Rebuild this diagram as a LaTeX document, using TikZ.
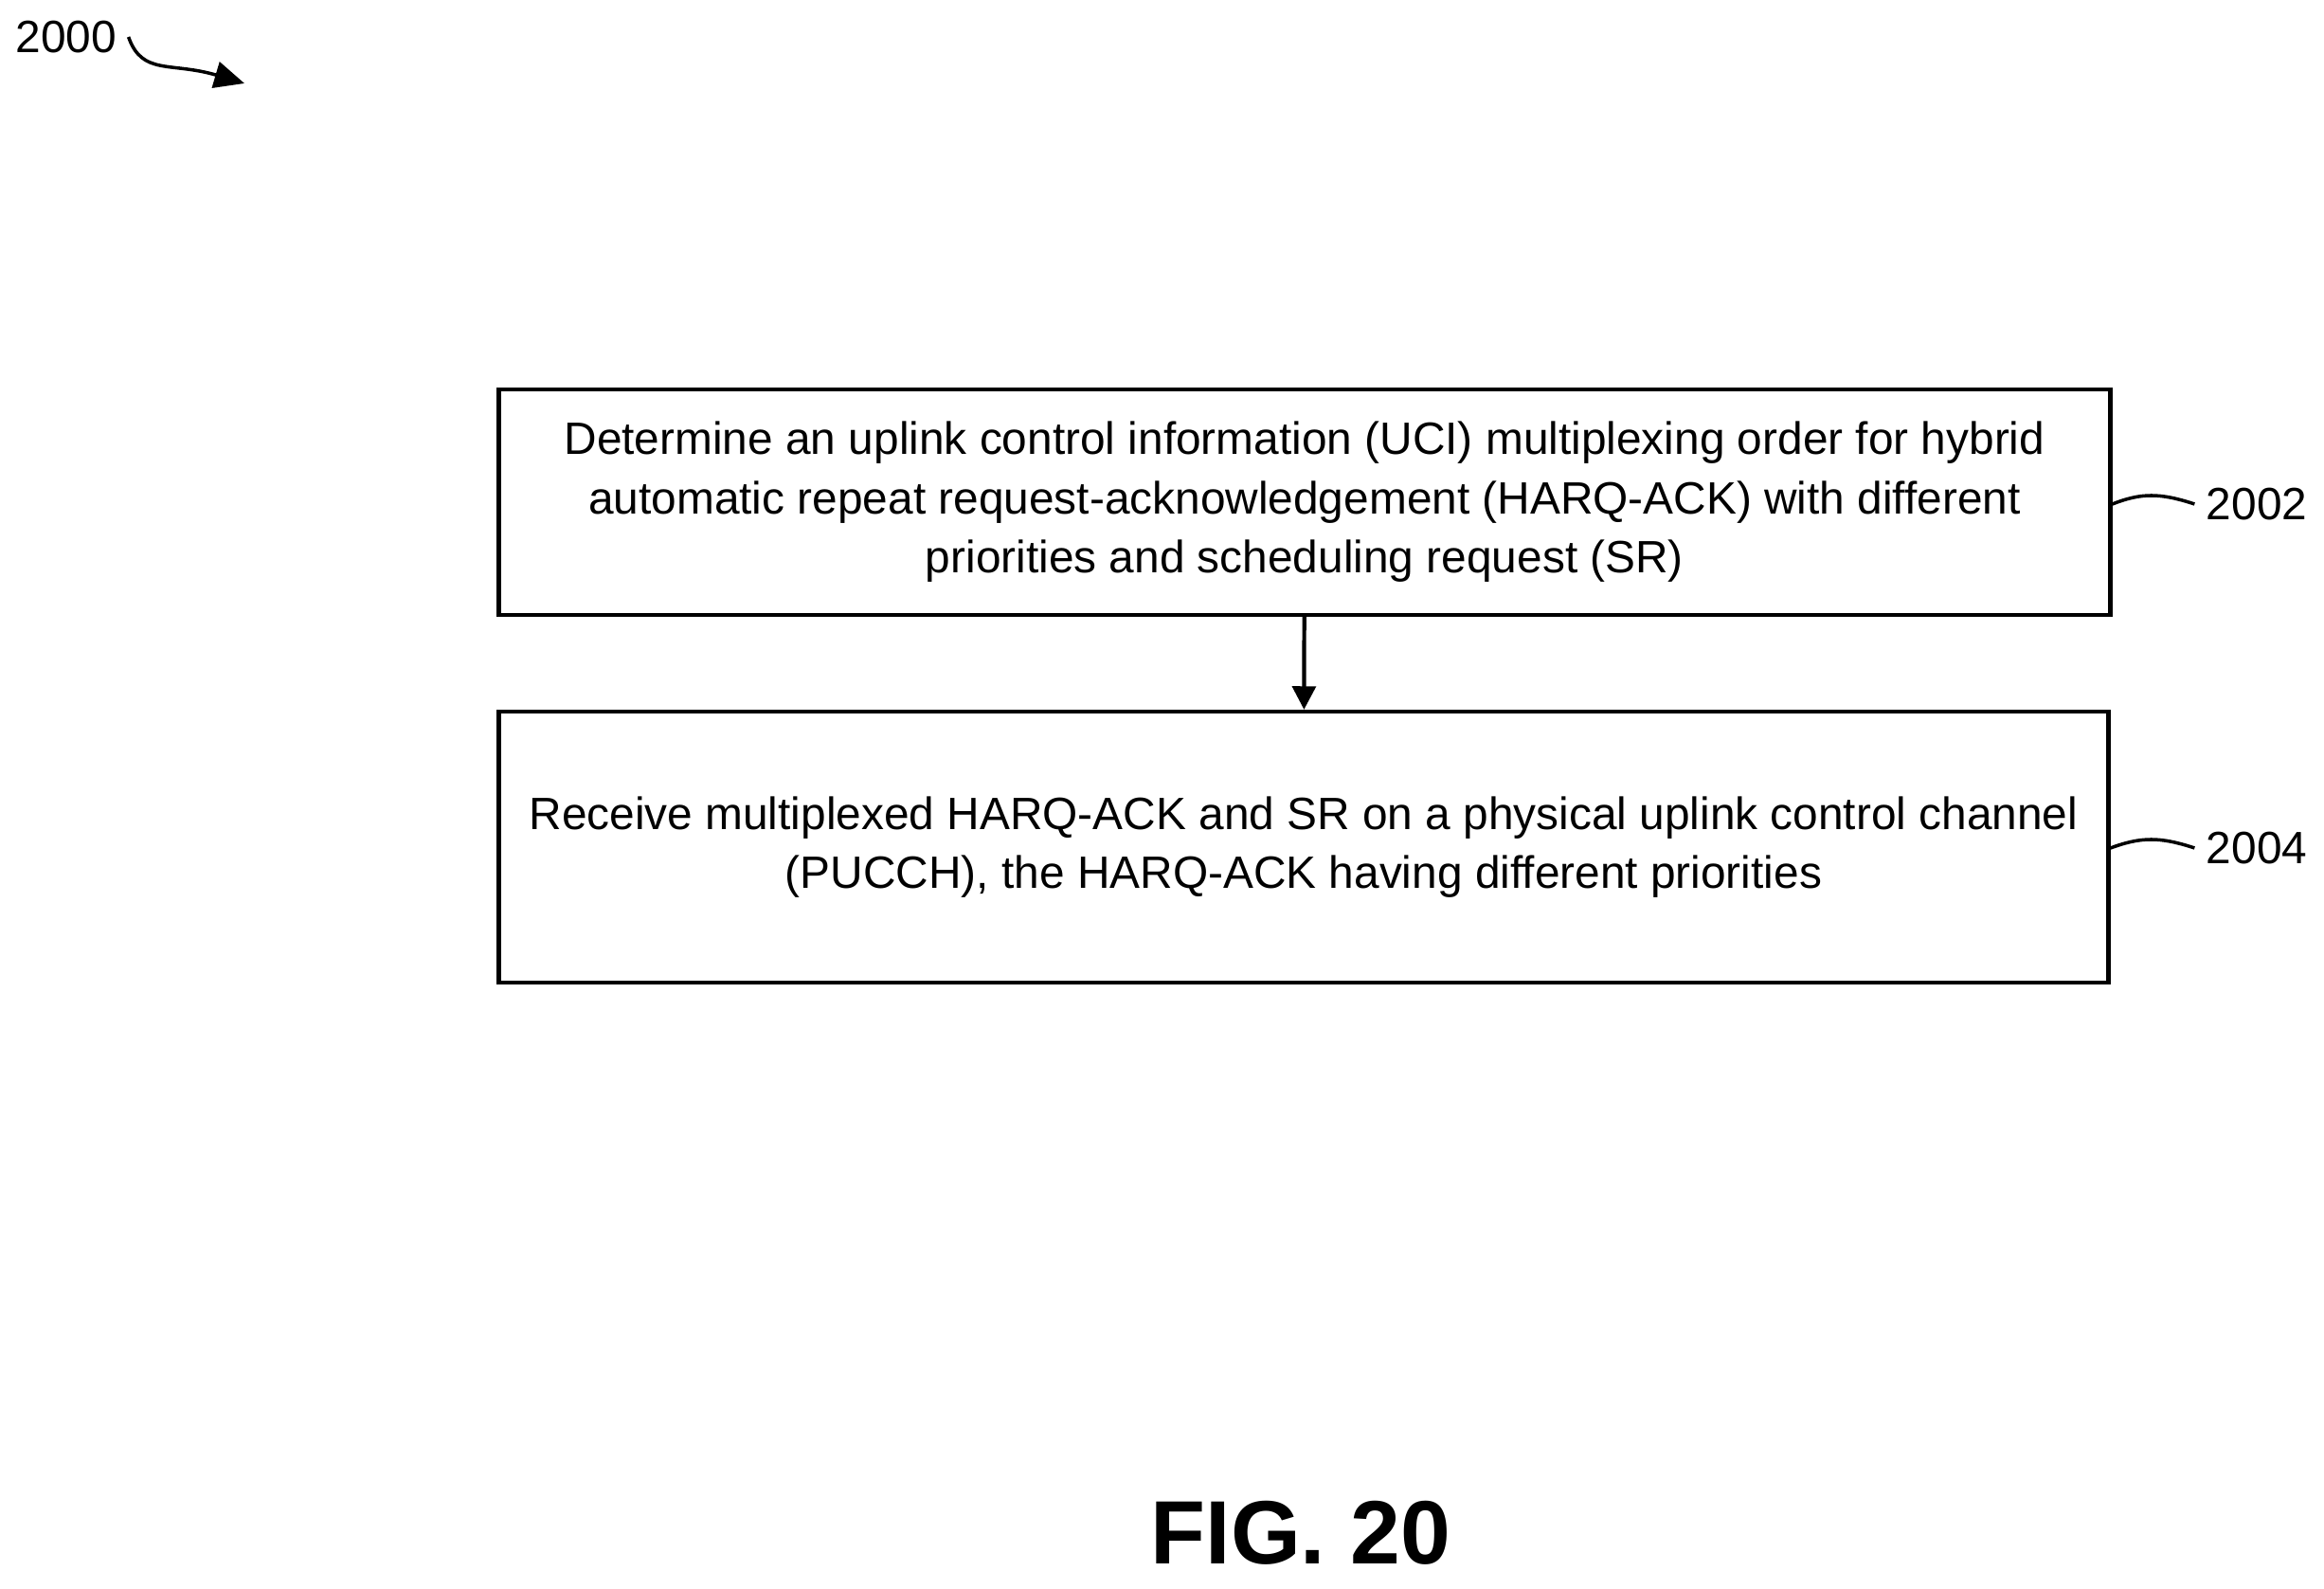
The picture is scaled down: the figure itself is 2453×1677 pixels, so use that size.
\documentclass[tikz,border=0pt]{standalone}
\usepackage{fontspec}
\setmainfont{Liberation Sans}
\usetikzlibrary{arrows.meta}
\begin{document}
\begin{tikzpicture}[x=0.01cm,y=-0.01cm]
	\tikzstyle{stepbox}=[draw=black, line width=1.2pt, align=center, font=\fontsize{13.6}{17.8}\selectfont]
	\tikzstyle{refnum}=[font=\fontsize{13.6}{16}\selectfont]
	\useasboundingbox (0,0) rectangle (2453,1677);
	% Boxes
	\node at (1377,530) [stepbox, minimum width=1701*0.01cm, minimum height=238*0.01cm] (box_2002) {Determine an uplink control information (UCI) multiplexing order for hybrid\\automatic repeat request-acknowledgement (HARQ-ACK) with different\\priorities and scheduling request (SR)};
	\node at (1376,894) [stepbox, minimum width=1699*0.01cm, minimum height=286*0.01cm] (box_2004) {Receive multiplexed HARQ-ACK and SR on a physical uplink control channel\\(PUCCH), the HARQ-ACK having different priorities};
	% Arrow
	\draw [-{Triangle[length=7pt,width=7pt]}, line width=1.2pt] (box_2002) -- (box_2004);
	% Reference numbers
	\node at (2382,532) [refnum] (lbl_2002) {2002};
	\node at (2382,895) [refnum] (lbl_2004) {2004};
	\node at (70,39) [refnum] (lbl_2000) {2000};
	\draw [line width=1pt] (box_2002.east |- lbl_2002) .. controls (2260,520) and (2280,520) .. (lbl_2002.west);
	\draw [line width=1pt] (box_2004.east |- lbl_2004) .. controls (2260,883) and (2280,883) .. (lbl_2004.west);
	\coordinate (tip_2000) at (258,88);
	\draw [-{Triangle[length=9pt,width=8pt]}, line width=1pt] (lbl_2000.east) .. controls (150,80) and (180,65) .. (tip_2000);
	% Title
	\node at (1373,1618) [font=\bfseries\fontsize{27}{32}\selectfont] (fig_title) {FIG. 20};
\end{tikzpicture}
\end{document}
